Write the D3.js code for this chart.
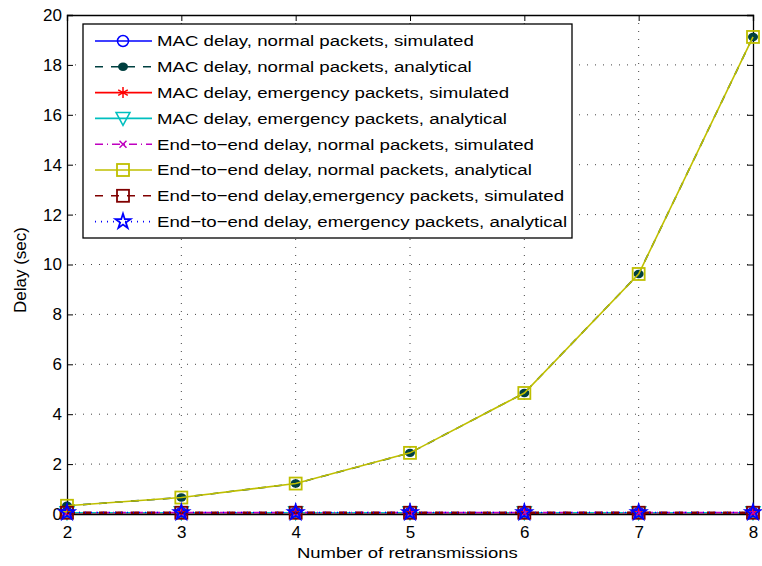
<!DOCTYPE html>
<html>
<head>
<meta charset="utf-8">
<script src="https://cdnjs.cloudflare.com/ajax/libs/d3/7.8.5/d3.min.js"></script>
<style>
body { margin: 0; background: #fff; }
text { font-family: "Liberation Sans", Arial, sans-serif; }
</style>
</head>
<body>
<div id="chart"></div>
<script>
// data
var retrans = [2, 3, 4, 5, 6, 7, 8];
var macNormalSim = [0.04, 0.04, 0.04, 0.04, 0.04, 0.04, 0.04];
var macNormalAna = [0.33, 0.66, 1.22, 2.45, 4.85, 9.62, 19.12];
var macEmergSim = [0.03, 0.03, 0.03, 0.03, 0.03, 0.03, 0.03];
var macEmergAna = [0.05, 0.05, 0.05, 0.05, 0.05, 0.05, 0.05];
var e2eNormalSim = [0.06, 0.06, 0.06, 0.06, 0.06, 0.06, 0.06];
var e2eNormalAna = [0.33, 0.66, 1.22, 2.45, 4.85, 9.62, 19.12];
var e2eEmergSim = [0.05, 0.05, 0.05, 0.05, 0.05, 0.05, 0.05];
var e2eEmergAna = [0.06, 0.06, 0.06, 0.06, 0.06, 0.06, 0.06];
var yTicks = [0, 2, 4, 6, 8, 10, 12, 14, 16, 18, 20];

var series = [
  {name: "MAC delay, normal packets, simulated", values: macNormalSim, color: "#0000ff", dash: null, marker: "circle"},
  {name: "MAC delay, normal packets, analytical", values: macNormalAna, color: "#004040", dash: "8,8", marker: "dot"},
  {name: "MAC delay, emergency packets, simulated", values: macEmergSim, color: "#ff0000", dash: null, marker: "star6"},
  {name: "MAC delay, emergency packets, analytical", values: macEmergAna, color: "#00bfbf", dash: null, marker: "tri"},
  {name: "End\u2212to\u2212end delay, normal packets, simulated", values: e2eNormalSim, color: "#bf00bf", dash: "8,4,1,4", marker: "x"},
  {name: "End\u2212to\u2212end delay, normal packets, analytical", values: e2eNormalAna, color: "#bfbf00", dash: null, marker: "square"},
  {name: "End\u2212to\u2212end delay,emergency packets, simulated", values: e2eEmergSim, color: "#800000", dash: "8,8", marker: "square"},
  {name: "End\u2212to\u2212end delay, emergency packets, analytical", values: e2eEmergAna, color: "#0000ff", dash: "1,5", marker: "pent"}
];

var W = 762, H = 566;
var margin = {top: 15, right: 9, bottom: 52, left: 67};
var width = W - margin.left - margin.right,
    height = H - margin.top - margin.bottom;

var svg = d3.select("#chart").append("svg")
    .attr("width", W).attr("height", H);
var g = svg.append("g")
    .attr("transform", "translate(" + margin.left + "," + margin.top + ")");

var x = d3.scaleLinear().domain([2, 8]).range([0, width]);
var y = d3.scaleLinear().domain([0, 20]).range([height, 0]);

// grid
g.selectAll(".gx").data(retrans.slice(1, -1)).enter().append("line")
  .attr("x1", d => x(d)).attr("x2", d => x(d))
  .attr("y1", 0).attr("y2", height)
  .attr("stroke", "#444").attr("stroke-width", 1).attr("stroke-dasharray", "1,7");
g.selectAll(".gy").data(yTicks.slice(1, -1)).enter().append("line")
  .attr("y1", d => y(d)).attr("y2", d => y(d))
  .attr("x1", 0).attr("x2", width)
  .attr("stroke", "#444").attr("stroke-width", 1).attr("stroke-dasharray", "1,7");

// axes
var xAxis = d3.axisBottom(x).tickValues(retrans).tickSize(-6).tickPadding(12).tickFormat(d3.format("d"));
var yAxis = d3.axisLeft(y).tickValues(yTicks).tickSize(-6).tickPadding(5);
g.append("g").attr("transform", "translate(0," + height + ")").call(xAxis);
g.append("g").call(yAxis);
g.append("g").call(d3.axisTop(x).tickValues(retrans).tickSize(-6).tickFormat(""));
g.append("g").attr("transform", "translate(" + width + ",0)")
  .call(d3.axisRight(y).tickValues(yTicks).tickSize(-6).tickFormat(""));
g.selectAll(".domain").attr("stroke", "#000").attr("stroke-width", 1.3);
g.selectAll(".tick line").attr("stroke", "#000");
g.selectAll(".tick text").attr("font-size", "17px").attr("fill", "#000")
  .style("font-family", "Liberation Sans, Arial, sans-serif");

// markers
function drawMarker(sel, type, color, cx, cy) {
  var m = sel.append("g").attr("transform", "translate(" + cx + "," + cy + ")");
  if (type === "circle") {
    m.append("circle").attr("r", 5.5).attr("fill", "none").attr("stroke", color).attr("stroke-width", 1.5);
  } else if (type === "dot") {
    m.append("ellipse").attr("rx", 5).attr("ry", 4.2).attr("fill", color);
  } else if (type === "star6") {
    m.append("path").attr("d", "M0,-5.5V5.5M-4.8,-2.75L4.8,2.75M-4.8,2.75L4.8,-2.75")
      .attr("stroke", color).attr("stroke-width", 1.5);
  } else if (type === "tri") {
    m.append("path").attr("d", "M-7,-6L7,-6L0,7Z").attr("fill", "none").attr("stroke", color).attr("stroke-width", 1.5);
  } else if (type === "x") {
    m.append("path").attr("d", "M-3.5,-3.5L3.5,3.5M-3.5,3.5L3.5,-3.5").attr("stroke", color).attr("stroke-width", 1.5);
  } else if (type === "square") {
    m.append("rect").attr("x", -6).attr("y", -6).attr("width", 12).attr("height", 12)
      .attr("fill", "none").attr("stroke", color).attr("stroke-width", 1.8);
  } else if (type === "pent") {
    m.append("path").attr("d", d3.symbol().type(d3.symbolStar).size(70)())
      .attr("fill", "none").attr("stroke", color).attr("stroke-width", 1.8);
  }
  return m;
}

var line = d3.line().x((d, i) => x(retrans[i])).y(d => y(d));
var plot = g.append("g");
series.forEach(function(s) {
  plot.append("path").datum(s.values)
    .attr("d", line).attr("fill", "none")
    .attr("stroke", s.color).attr("stroke-width", s.color === "#800000" ? 2.5 : 1.6)
    .attr("stroke-dasharray", s.dash);
  s.values.forEach(function(v, i) {
    drawMarker(plot, s.marker, s.color, x(retrans[i]), y(v));
  });
});

// stretch text horizontally so it spans the same width as in the picture
function fitWidth(t, px) {
  var w = t.node().getComputedTextLength();
  var x0 = +t.attr("x"), y0 = +t.attr("y");
  t.attr("transform", "translate(" + x0 + "," + y0 + ") scale(" + (px / w) + ",1) translate(" + (-x0) + "," + (-y0) + ")");
  return px / w;
}

// legend
var lg = svg.append("g").attr("transform", "translate(83,24)");
lg.append("rect").attr("width", 489).attr("height", 214)
  .attr("fill", "#fff").attr("stroke", "#000").attr("stroke-width", 1.3);
var sx = null;
series.forEach(function(s, i) {
  var yy = 17 + i * 25.8;
  lg.append("line").attr("x1", 12).attr("x2", 69).attr("y1", yy).attr("y2", yy)
    .attr("stroke", s.color).attr("stroke-width", 1.6).attr("stroke-dasharray", s.dash);
  drawMarker(lg, s.marker, s.color, 40, yy);
  var t = lg.append("text").attr("x", 74).attr("y", yy + 5.5)
    .attr("font-size", "15.5px").attr("fill", "#000").text(s.name);
  if (i === 0) sx = fitWidth(t, 317);
  else {
    var w = t.node().getComputedTextLength();
    fitWidth(t, w * sx);
  }
});

// axis titles
var xt = svg.append("text").attr("x", 297).attr("y", 558)
  .attr("font-size", "15.5px").text("Number of retransmissions");
fitWidth(xt, 221);
svg.append("text").attr("transform", "translate(26,270) rotate(-90)")
  .attr("text-anchor", "middle").attr("font-size", "17px").text("Delay (sec)");
</script>
</body>
</html>
